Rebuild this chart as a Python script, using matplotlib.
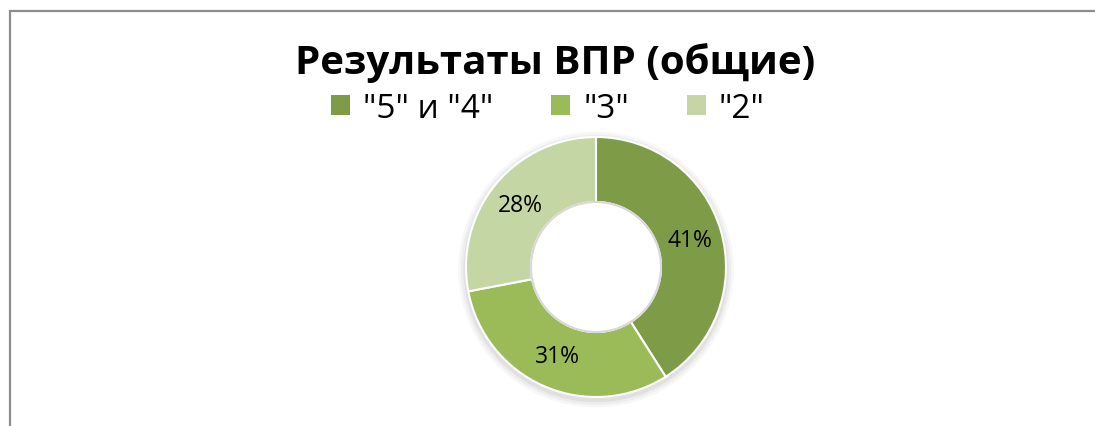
import matplotlib
matplotlib.use('Agg')
import matplotlib.pyplot as plt
from matplotlib.patches import Patch, Circle, Rectangle

# data
labels = ['"5" и "4"', '"3"', '"2"']
shares = [41, 31, 28]
colors = ['#7E9B48', '#9BBB59', '#C4D6A4']
title = 'Результаты ВПР (общие)'

plt.rcParams['font.family'] = ['Open Sans', 'DejaVu Sans']

W, H = 1095, 427
fig = plt.figure(figsize=(W / 100, H / 100), dpi=100)

# frame around the chart area
fig.patches.append(Rectangle((10 / W, -0.1), 1.2, (H - 12) / H + 0.1,
                             transform=fig.transFigure, fill=False,
                             edgecolor='#8c8c8c', linewidth=1.6))

cx, cy, r = 596, 268, 130
ax = fig.add_axes([(cx - r) / W, (H - cy - r) / H, 2 * r / W, 2 * r / H])

# soft shadow under the ring
for i, a in enumerate([0.05, 0.04, 0.03]):
    ax.add_patch(Circle((0.0, -0.02), 1.0 + 0.02 * (i + 1), color='black',
                        alpha=a, zorder=0, linewidth=0, clip_on=False))

wedges, texts, autotexts = ax.pie(
    shares, colors=colors, startangle=90, counterclock=False,
    radius=1.0, autopct='%d%%', pctdistance=0.75,
    wedgeprops=dict(width=0.5, edgecolor='white', linewidth=1.5),
    textprops=dict(fontsize=16.5, color='black'))
for w in wedges:
    w.set_zorder(2)
    w.set_clip_on(False)
for t in autotexts:
    t.set_zorder(3)
ax.add_patch(Circle((0, 0), 0.5, color='white', zorder=2.5))
# faint inner shadow at the hole edge
ax.add_patch(Circle((0, 0), 0.5, fill=False, edgecolor='#d8d8d8',
                    linewidth=1.5, zorder=2.6))
ax.set_xlim(-1.0, 1.0)
ax.set_ylim(-1.0, 1.0)
ax.set_aspect('equal')
ax.axis('off')

fig.text(555 / W, 1 - 63 / H, title, ha='center', va='center',
         fontsize=29, fontweight='bold')

handles = [Patch(facecolor=c, edgecolor='none') for c in colors]
fig.legend(handles, labels, loc='center', bbox_to_anchor=(548 / W, 1 - 109 / H),
           ncol=3, frameon=False, fontsize=24, handlelength=0.55,
           handleheight=0.55, handletextpad=0.4, columnspacing=1.75)

fig.savefig('out.png', dpi=100)
